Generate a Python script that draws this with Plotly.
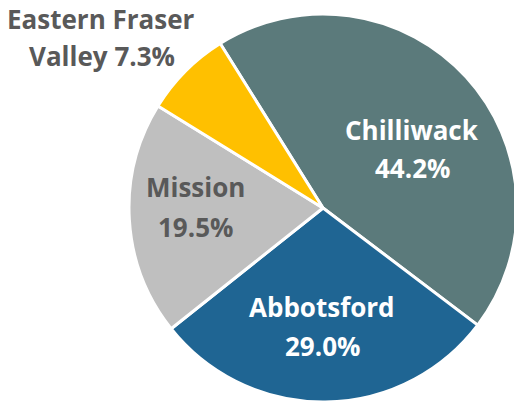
import plotly.graph_objects as go

# Data
regions = ["Chilliwack", "Abbotsford", "Mission", "Eastern Fraser Valley"]
shares = [44.2, 29.0, 19.5, 7.3]
label_lines = [["Chilliwack", "44.2%"], ["Abbotsford", "29.0%"], ["Mission", "19.5%"],
               ["Eastern Fraser", "Valley 7.3%"]]

# Styles
colors = ["#5B7A7B", "#1F6593", "#BFBFBF", "#FFC000"]
text_colors = ["white", "white", "#595959", "#595959"]
W, H = 520, 402
FONT = "Open Sans"

fig = go.Figure(go.Pie(
    labels=regions, values=shares, sort=False, direction="clockwise",
    rotation=-32, marker=dict(colors=colors, line=dict(color="white", width=3)),
    textinfo="none", hoverinfo="label+percent", showlegend=False,
    domain=dict(x=[129 / W, 517 / W], y=[0, 388 / H]),
))

# label placements (pixel centers of each line)
label_pos = [[(412, 130), (412, 168)], [(322, 307), (322, 346)],
             [(195, 187), (195, 227)], [(101, 19), (102, 56)]]
for lines, pos, tc in zip(label_lines, label_pos, text_colors):
    for txt, (px, py) in zip(lines, pos):
        fig.add_annotation(x=px / W, y=1 - py / H, xref="paper", yref="paper",
                           text="<b>%s</b>" % txt, showarrow=False,
                           xanchor="center", yanchor="middle",
                           font=dict(family=FONT, size=26, color=tc))

fig.update_layout(width=W, height=H, margin=dict(l=0, r=0, t=0, b=0),
                  paper_bgcolor="white", plot_bgcolor="white")

fig.write_html("out.html", config={"displayModeBar": False},
               post_script="document.documentElement.style.overflow='hidden';document.body.style.overflow='hidden';document.body.style.margin='0';")
